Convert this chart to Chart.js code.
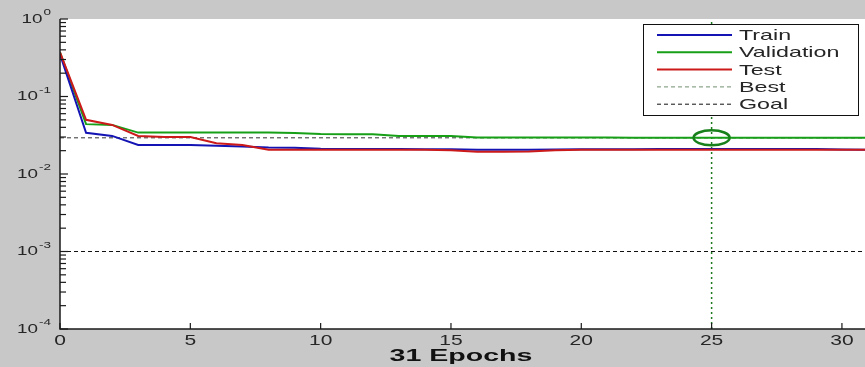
<!DOCTYPE html>
<html>
<head>
<meta charset="utf-8">
<script src="https://cdn.jsdelivr.net/npm/chart.js@4/dist/chart.umd.min.js"></script>
<style>
    html, body { margin: 0; padding: 0; overflow: hidden; background: #c8c8c8; }
    #wrap { width: 870px; height: 367px; }
</style>
</head>
<body>
<div id="wrap"><canvas id="perfChart" width="870" height="367"></canvas></div>
<script>
// Epochs and performance (mse)
const epochs = [0, 1, 2, 3, 4, 5, 6, 7, 8, 9, 10, 11, 12, 13, 14, 15, 16, 17, 18, 19, 20, 21, 22, 23, 24, 25, 26, 27, 28, 29, 30, 31];
const trainPerf = [0.35, 0.034, 0.031, 0.0237, 0.0237, 0.0236, 0.0232, 0.0226, 0.022, 0.0218, 0.0212, 0.021, 0.021, 0.021, 0.0209, 0.0208, 0.0205, 0.0205, 0.0205, 0.0207, 0.0208, 0.0208, 0.0209, 0.021, 0.021, 0.021, 0.021, 0.021, 0.021, 0.021, 0.0207, 0.0206];
const valPerf = [0.37, 0.044, 0.043, 0.0342, 0.0342, 0.0342, 0.0342, 0.0342, 0.0342, 0.0338, 0.0327, 0.0325, 0.0325, 0.031, 0.031, 0.031, 0.0296, 0.0295, 0.0295, 0.0295, 0.0295, 0.0295, 0.0294, 0.0294, 0.0293, 0.0293, 0.0294, 0.0294, 0.0294, 0.0294, 0.0294, 0.0294];
const testPerf = [0.37, 0.05, 0.043, 0.031, 0.030, 0.030, 0.025, 0.0237, 0.0205, 0.0205, 0.0205, 0.0205, 0.0205, 0.0205, 0.0205, 0.0203, 0.0194, 0.0194, 0.0195, 0.0203, 0.0205, 0.0205, 0.0205, 0.0205, 0.0205, 0.0205, 0.0205, 0.0205, 0.0205, 0.0205, 0.0205, 0.0205];
const bestEpoch = 25;
const bestPerf = 0.0293;
const goalPerf = 0.001;

// Tick labels
const xTicks = [0, 5, 10, 15, 20, 25, 30];
const yExponents = [0, -1, -2, -3, -4];
const xTitle = '31 Epochs';
const legendNames = ['Train', 'Validation', 'Test', 'Best', 'Goal'];

const toPoints = arr => arr.map((v, i) => ({ x: epochs[i], y: v }));

// the source picture is stretched sideways, so text is drawn wider
function wideText(ctx, text, x, y, align, sx) {
    ctx.save();
    ctx.translate(x, y);
    ctx.scale(sx, 1);
    ctx.textAlign = align;
    ctx.fillText(text, 0, 0);
    ctx.restore();
}

// Draws the white axes, inward ticks, labels, best circle and legend box
const matlabAxes = {
    id: 'matlabAxes',
    beforeDraw(chart) {
        const { ctx, chartArea: a } = chart;
        ctx.save();
        ctx.fillStyle = '#ffffff';
        ctx.fillRect(a.left, a.top, a.right - a.left, a.bottom - a.top);
        ctx.restore();
    },
    afterDatasetsDraw(chart) {
        const { ctx, chartArea: a, scales } = chart;
        const xs = scales.x, ys = scales.y;
        ctx.save();

        // best circle
        const cx = xs.getPixelForValue(bestEpoch);
        const cy = ys.getPixelForValue(bestPerf);
        ctx.strokeStyle = '#17801a';
        ctx.lineWidth = 2.5;
        ctx.beginPath();
        ctx.ellipse(cx, cy, 18, 7.5, 0, 0, Math.PI * 2);
        ctx.stroke();

        // axis lines
        ctx.strokeStyle = '#1a1a1a';
        ctx.lineWidth = 1.5;
        ctx.beginPath();
        ctx.moveTo(a.left, a.top);
        ctx.lineTo(a.left, a.bottom);
        ctx.lineTo(a.right, a.bottom);
        ctx.stroke();

        // y ticks (major + minor), pointing inward
        ctx.lineWidth = 1.2;
        yExponents.forEach(e => {
            for (let m = 1; m <= 9; m++) {
                const v = m * Math.pow(10, e);
                if (v > 1.0001) break;
                const py = ys.getPixelForValue(v);
                ctx.beginPath();
                ctx.moveTo(a.left, py);
                ctx.lineTo(a.left + (m === 1 ? 8 : 6), py);
                ctx.stroke();
            }
        });
        // x ticks
        xTicks.forEach(t => {
            const px = xs.getPixelForValue(t);
            ctx.beginPath();
            ctx.moveTo(px, a.bottom);
            ctx.lineTo(px, a.bottom - 6);
            ctx.stroke();
        });

        // x tick labels
        ctx.fillStyle = '#262626';
        ctx.font = '14px "Liberation Sans", Arial, sans-serif';
        ctx.textBaseline = 'middle';
        xTicks.forEach(t => {
            wideText(ctx, String(t), xs.getPixelForValue(t), a.bottom + 12, 'center', 1.5);
        });

        // y tick labels 10^e
        yExponents.forEach(e => {
            const py = ys.getPixelForValue(Math.pow(10, e));
            const exp = e === 0 ? '0' : '-' + Math.abs(e);
            ctx.font = '9px "Liberation Sans", Arial, sans-serif';
            const ew = ctx.measureText(exp).width * 1.5;
            wideText(ctx, exp, 51 - ew, py - 6, 'left', 1.5);
            ctx.font = '13px "Liberation Sans", Arial, sans-serif';
            wideText(ctx, '10', 50 - ew, py, 'right', 1.45);
        });

        // x title
        ctx.font = 'bold 17px "Liberation Sans", Arial, sans-serif';
        ctx.fillStyle = '#111';
        wideText(ctx, xTitle, xs.getPixelForValue(15.5) - 3, a.bottom + 27, 'center', 1.68);

        // legend box
        const lx = 643, ly = 24, lw = 215, lh = 91;
        ctx.fillStyle = '#ffffff';
        ctx.fillRect(lx, ly, lw, lh);
        ctx.strokeStyle = '#111';
        ctx.lineWidth = 1;
        ctx.strokeRect(lx + 0.5, ly + 0.5, lw, lh);
        const legendDs = [0, 1, 2, 4, 5];
        ctx.font = '15px "Liberation Sans", Arial, sans-serif';
        legendNames.forEach((name, i) => {
            const ds = chart.data.datasets[legendDs[i]];
            const ry = ly + 11 + i * 17.3;
            ctx.strokeStyle = i === 3 ? '#6f8f6f' : ds.borderColor;
            ctx.lineWidth = ds.borderDash ? 1 : 2;
            ctx.setLineDash(ds.borderDash ? [4, 3] : []);
            ctx.beginPath();
            ctx.moveTo(657, ry);
            ctx.lineTo(732, ry);
            ctx.stroke();
            ctx.setLineDash([]);
            ctx.fillStyle = '#262626';
            wideText(ctx, name, 739, ry + 1, 'left', 1.55);
        });
        ctx.restore();
    }
};

const ctx = document.getElementById('perfChart').getContext('2d');
new Chart(ctx, {
    type: 'line',
    data: {
        datasets: [
            { label: 'Train', data: toPoints(trainPerf), borderColor: '#1414b4', borderWidth: 2, order: 1 },
            { label: 'Validation', data: toPoints(valPerf), borderColor: '#17a017', borderWidth: 2, order: 2 },
            { label: 'Test', data: toPoints(testPerf), borderColor: '#cc1a1a', borderWidth: 2, order: 0 },
            { label: 'BestV', data: [{ x: bestEpoch, y: 1e-4 }, { x: bestEpoch, y: 1 }], borderColor: '#1e7a1e', borderWidth: 1.5, borderDash: [2, 3], order: 4 },
            { label: 'Best', data: [{ x: 0, y: bestPerf }, { x: 31, y: bestPerf }], borderColor: '#333333', borderWidth: 1, borderDash: [4, 3], order: 5 },
            { label: 'Goal', data: [{ x: 0, y: goalPerf }, { x: 31, y: goalPerf }], borderColor: '#111111', borderWidth: 1, borderDash: [4, 3], order: 5 }
        ]
    },
    options: {
        responsive: false,
        animation: false,
        elements: { point: { radius: 0 }, line: { tension: 0, fill: false } },
        layout: { padding: { left: 60, top: 19, right: 2, bottom: 38 } },
        scales: {
            x: { type: 'linear', min: 0, max: 31, display: false },
            y: { type: 'logarithmic', min: 1e-4, max: 1, display: false }
        },
        plugins: {
            legend: { display: false },
            tooltip: { enabled: false }
        }
    },
    plugins: [matlabAxes]
});
</script>
</body>
</html>
